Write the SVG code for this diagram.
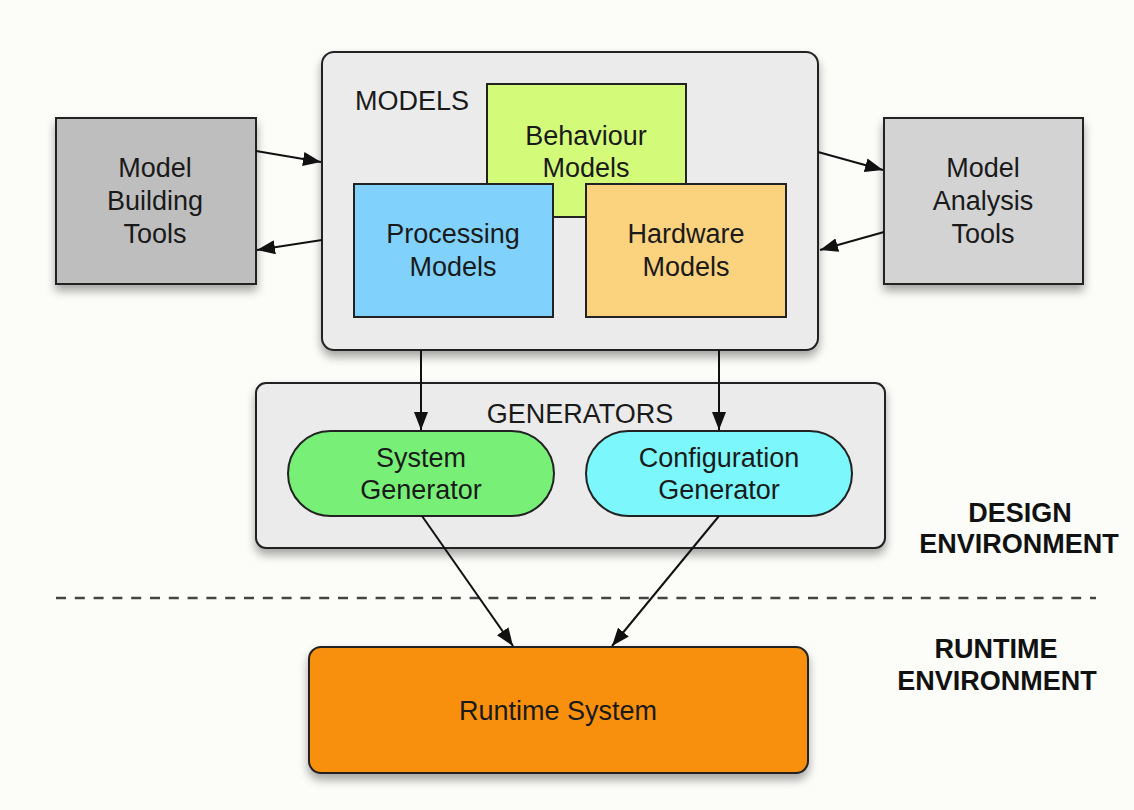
<svg xmlns="http://www.w3.org/2000/svg" width="1134" height="810" viewBox="0 0 1134 810">
<defs>
<filter id="sh" x="-10%" y="-10%" width="125%" height="135%">
<feDropShadow dx="0" dy="6" stdDeviation="5" flood-color="#000" flood-opacity="0.35"/>
</filter>
<marker id="ah" markerUnits="userSpaceOnUse" markerWidth="19" markerHeight="14" refX="18" refY="7" orient="auto">
<path d="M0,0 L18,7 L0,14 z" fill="#111"/>
</marker>
<style>
.box{stroke:#222;stroke-width:2}
.t{font-family:"Liberation Sans",Arial,sans-serif;font-size:27px;fill:#1a1a1a;text-anchor:middle}
.lab{font-family:"Liberation Sans",Arial,sans-serif;font-size:27px;font-weight:bold;fill:#111;text-anchor:middle}
.c{stroke:#111;stroke-width:2;fill:none;marker-end:url(#ah)}
</style>
</defs>
<rect width="1134" height="810" fill="#fcfdf9"/>

<g id="model-building-tools">
<rect class="box" x="56" y="118" width="200" height="166" fill="#bebebe" filter="url(#sh)"/>
<text class="t" x="155" y="177">Model</text>
<text class="t" x="155" y="210">Building</text>
<text class="t" x="155" y="243">Tools</text>
</g>

<g id="models">
<rect class="box" x="322" y="52" width="496" height="298" rx="12" fill="#ebebeb" filter="url(#sh)"/>
<text class="t" x="355" y="110" style="text-anchor:start">MODELS</text>
</g>

<g id="behaviour-models">
<rect class="box" x="487" y="84" width="199" height="133" fill="#d4fa7a"/>
<text class="t" x="586" y="145">Behaviour</text>
<text class="t" x="586" y="177">Models</text>
</g>

<g id="processing-models">
<rect class="box" x="354" y="184" width="199" height="133" fill="#80d2fc"/>
<text class="t" x="453" y="243">Processing</text>
<text class="t" x="453" y="276">Models</text>
</g>

<g id="hardware-models">
<rect class="box" x="586" y="184" width="200" height="133" fill="#fbd27e"/>
<text class="t" x="686" y="243">Hardware</text>
<text class="t" x="686" y="276">Models</text>
</g>

<g id="model-analysis-tools">
<rect class="box" x="884" y="118" width="199" height="166" fill="#d3d3d3" filter="url(#sh)"/>
<text class="t" x="983" y="177">Model</text>
<text class="t" x="983" y="210">Analysis</text>
<text class="t" x="983" y="243">Tools</text>
</g>

<g id="generators">
<rect class="box" x="256" y="383" width="629" height="165" rx="10" fill="#ebebeb" filter="url(#sh)"/>
<text class="t" x="580" y="423">GENERATORS</text>
</g>

<g id="system-generator">
<rect class="box" x="288" y="431" width="266" height="85" rx="42.5" fill="#78f078"/>
<text class="t" x="421" y="467">System</text>
<text class="t" x="421" y="499">Generator</text>
</g>

<g id="configuration-generator">
<rect class="box" x="586" y="431" width="266" height="85" rx="42.5" fill="#7cf8fc"/>
<text class="t" x="719" y="467">Configuration</text>
<text class="t" x="719" y="499">Generator</text>
</g>

<g id="runtime-system">
<rect class="box" x="309" y="647" width="499" height="126" rx="12" fill="#f8900e" filter="url(#sh)"/>
<text class="t" x="558" y="720">Runtime System</text>
</g>

<g id="divider">
<line x1="56" y1="598" x2="1096" y2="598" stroke="#444" stroke-width="2.5" stroke-dasharray="10 8.8"/>
</g>

<g id="labels">
<text class="lab" x="1020" y="522">DESIGN</text>
<text class="lab" x="1019" y="553">ENVIRONMENT</text>
<text class="lab" x="996" y="658">RUNTIME</text>
<text class="lab" x="997" y="690">ENVIRONMENT</text>
</g>

<g id="connectors">
<line class="c" x1="256" y1="151" x2="321" y2="162"/>
<line class="c" x1="322" y1="240" x2="257" y2="250"/>
<line class="c" x1="818" y1="152" x2="883" y2="170"/>
<line class="c" x1="884" y1="232" x2="820" y2="250"/>
<line class="c" x1="421" y1="350" x2="421" y2="430"/>
<line class="c" x1="719" y1="350" x2="719" y2="430"/>
<line class="c" x1="422" y1="516" x2="513" y2="646"/>
<line class="c" x1="719" y1="516" x2="612" y2="646"/>
</g>
</svg>
